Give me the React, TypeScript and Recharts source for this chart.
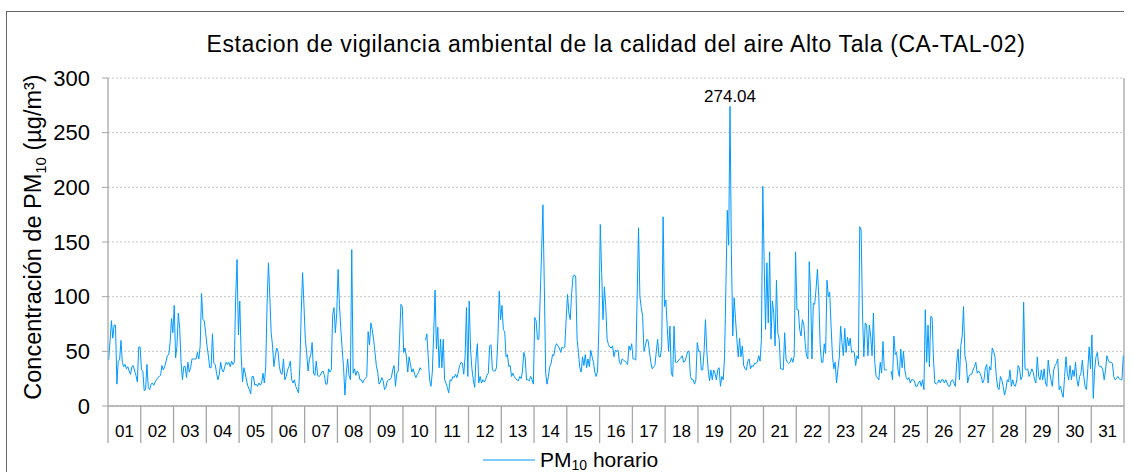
import { LineChart, Line, XAxis, YAxis, CartesianGrid, Legend, ReferenceLine, Label } from "recharts"

const dayLabels = [
  "01", "02", "03", "04", "05", "06", "07", "08", "09", "10", "11", "12", "13", "14", "15", "16",
  "17", "18", "19", "20", "21", "22", "23", "24", "25", "26", "27", "28", "29", "30", "31",
]
const yTicks = [0, 50, 100, 150, 200, 250, 300]

// PM10 hourly values (µg/m³), 24 per day, null = no data
const d01 = [42, 60, 78, 62, 74, 74, 20, 41, 42, 60, 40, 36, 38, 34, 36, 32, 29, 36, 37, 32, 28, 22, 54, 54]
const d02 = [33, 32, 14, 15, 38, 17, 15, 20, 21, 19, 22, 24, 26, 27, 28, 37, 33, 36, 41, 46, 47, 58, 80, 67]
const d03 = [92, 44, 55, 85, 71, 40, 24, 36, 36, 26, 40, 31, 35, 43, 43, 43, 43, 49, 43, 55, 103, 79, 78, 67]
const d04 = [55, 46, 35, 35, 66, 39, 38, 30, 24, 29, 40, 33, 31, 36, 40, 38, 40, 36, 41, 38, 40, 100, 134, 65]
const d05 = [96, 47, 22, 35, 30, 23, 18, 15, 11, 27, 27, 19, 20, 18, 21, 19, 21, 30, 21, 36, 94, 131, 100, 67]
const d06 = [55, 36, 46, 53, 50, 36, 30, 29, 43, 24, 27, 33, 36, 41, 24, 21, 24, 18, 15, 12, 37, 86, 122, 92]
const d07 = [61, 48, 32, 43, 47, 58, 30, 28, 41, 28, 27, 28, 31, 32, 28, 20, 20, 34, 31, 33, 83, 90, 67, 85]
const d08 = [125, 92, 70, 52, 35, 10, 30, 43, 28, 24, 143, 30, 34, 28, 32, 30, 24, 24, 21, 24, 25, 27, 68, 56]
const d09 = [76, 70, 61, 49, 37, 31, 20, 22, 26, 23, 15, 17, 23, 24, 24, 26, 33, 37, 18, 30, 32, 61, 93, 91]
const d10 = [49, 53, 45, 31, 45, 38, 31, 34, 29, 26, 29, 31, 35, 33, null, null, 60, 66, 45, 24, 18, 31, 66, 106]
const d11 = [52, 72, 35, 61, 35, 61, 24, 21, 17, 12, 24, 23, 27, 26, 29, 26, 31, 37, 40, 39, 29, 45, 90, 27]
const d12 = [96, 52, 34, 24, 17, 43, 57, 21, 27, 21, 24, 22, 24, 28, 30, 55, 56, 33, 32, 32, 35, 61, 105, 79]
const d13 = [92, 70, 68, 45, 47, 36, 37, 27, 30, 27, 25, 24, 23, 27, 25, 32, 49, 44, 24, 24, 23, 27, 24, 20]
const d14 = [81, 78, 61, 61, 100, 140, 184, 110, 30, 20, 27, 36, 39, 47, 46, 54, 57, 55, 53, 49, 54, 53, 54, 79]
const d15 = [102, 85, 79, 103, 118, 120, 118, 61, 49, 35, 31, 45, 37, 47, 35, 43, 36, 51, 45, 40, 31, 27, 32, 74]
const d16 = [166, 122, 79, 109, 91, 61, 56, 54, 53, 55, 45, 51, 50, 51, 40, 38, 43, 42, 41, 40, 38, 55, 51, 57]
const d17 = [43, 43, 42, 100, 163, 100, 90, 82, 50, 55, 61, 60, 50, 40, 34, 36, 37, 50, 61, 45, 45, 55, 173, 91]
const d18 = [97, 73, 50, 73, 30, 27, 73, 40, 40, 41, 43, 44, 46, 40, 41, 45, 50, 50, 27, 24, 24, 20, 24, 58]
const d19 = [50, 50, 33, 33, 50, 79, 50, 33, 23, 33, 24, 33, 30, 24, 33, 35, 18, 27, 24, 45, 110, 179, 147, 274.04]
const d20 = [140, 64, 99, 80, 61, 45, 62, 45, 55, 37, 34, 33, 41, 43, 34, 37, 36, 39, 39, 40, 46, 41, 61, 201]
const d21 = [131, 70, 131, 76, 141, 61, 96, 85, 55, 115, 67, 61, 34, 34, 33, 67, 43, 40, 39, 40, 44, 40, 46, 141]
const d22 = [88, 88, 70, 64, 79, 75, 58, 46, 43, 132, 104, 43, 94, 93, 107, 125, 100, 56, 40, 40, 57, 48, 115, 100]
const d23 = [104, 73, 46, 34, 40, 21, 34, 44, 73, 58, 46, 71, 49, 63, 55, 62, 49, 50, 49, 37, 46, 43, 164, 161]
const d24 = [85, 45, 76, 74, 46, 74, 64, 46, 85, 40, 27, 26, 24, 40, 30, 59, 33, 33, 33, null, null, 32, 24, 64]
const d25 = [47, 49, 33, 27, 52, 35, 50, 33, 26, 24, 26, 21, 24, 24, 23, 18, 18, 21, 23, 18, 24, 15, 88, 40]
const d26 = [74, 36, 82, 81, 42, 21, 20, 21, 24, 21, 24, 24, 21, 24, 21, 18, 18, 23, 24, 21, 18, 40, 52, 24]
const d27 = [55, 64, 91, 46, 40, 21, 27, 29, 29, 33, 36, 40, 30, 32, 30, 27, 21, 24, 35, 38, 21, 36, 33, 53]
const d28 = [50, 45, 27, 17, 15, 27, 24, 18, 10, 15, 24, 22, 33, 18, 24, 19, 18, 24, 37, 34, 24, 27, 95, 34]
const d29 = [33, 34, 27, 30, 34, 31, 24, 21, 45, 27, 24, 33, 24, 34, 21, 18, 42, 31, 24, 18, 33, 37, 39, 43]
const d30 = [15, 18, 12, 8, 27, 45, 30, 24, 37, 24, 33, 27, 40, 24, 18, 27, 30, 42, 27, 18, 15, 34, 54, 34]
const d31 = [65, 7, 33, 45, 49, 37, 36, 36, 33, 24, 33, 46, 42, 40, 40, 39, 27, 24, 25, 27, 25, 24, 24, 46]

const days = [
  d01, d02, d03, d04, d05, d06, d07, d08, d09, d10, d11, d12, d13, d14, d15, d16,
  d17, d18, d19, d20, d21, d22, d23, d24, d25, d26, d27, d28, d29, d30, d31,
]

const hourly = days.flat()
const data = hourly.map((pm10, i) => ({ hour: i + 0.5, pm10 }))
const peak = Math.max(...hourly.filter((v): v is number => v !== null))
const totalHours = days.length * 24
const xTicks = [...dayLabels.flatMap((_, i) => [i * 24, i * 24 + 12]), totalHours]

const LINE = "#0099ff"
const AXIS = "#a6a6a6"
const FONT = "'Liberation Sans', Arial, sans-serif"

function DayTick(props: any) {
  const { x, y, payload } = props
  const v = payload.value
  if (v % 24 === 0) {
    return <line x1={x} x2={x} y1={y} y2={y + 37} stroke={AXIS} strokeWidth={1.3} />
  }
  return (
    <text x={x} y={y + 30.5} textAnchor="middle" fontSize={17} fill="#000">
      {dayLabels[(v - 12) / 24]}
    </text>
  )
}

function YLabel(props: any) {
  const vb = props.viewBox || { x: 0, y: 78, width: 108, height: 328 }
  const cx = vb.x + 41
  const cy = vb.y + vb.height / 2 - 5
  return (
    <text x={cx} y={cy} textAnchor="middle" fontSize={23.5} fill="#000" transform={`rotate(-90, ${cx}, ${cy})`}>
      Concentración de PM
      <tspan fontSize={15} dy={5}>10</tspan>
      <tspan dy={-5}> (µg/m³)</tspan>
    </text>
  )
}

function PeakLabel(props: any) {
  const { x, y, value } = props
  if (value !== peak) return null
  return (
    <text x={x} y={y - 4} textAnchor="middle" fontSize={17} fill="#000">
      {value.toFixed(2)}
    </text>
  )
}

function LegendBox() {
  return (
    <svg width={1133} height={23}>
      <line x1={483} x2={535} y1={11} y2={11} stroke={LINE} strokeWidth={1} />
      <text x={540} y={18} fontSize={21} fill="#000" fontFamily={FONT}>
        PM<tspan fontSize={14} dy={3}>10</tspan>
        <tspan dy={-3}> horario</tspan>
      </text>
    </svg>
  )
}

export default function App() {
  return (
    <div style={{ position: "absolute", left: 0, top: 0, width: 1133, height: 472, overflow: "hidden", background: "#fff", fontFamily: FONT }}>
      <div style={{ position: "absolute", left: 6, top: 11, width: 1117, height: 480, borderTop: "1px solid #666", borderLeft: "1px solid #666" }} />
      <div style={{ position: "absolute", left: 108, width: 1016, top: 31, textAlign: "center", fontSize: 23, letterSpacing: 0.6, color: "#000", whiteSpace: "nowrap" }}>
        Estacion de vigilancia ambiental de la calidad del aire Alto Tala (CA-TAL-02)
      </div>
      <div style={{ position: "absolute", left: 0, top: 0 }}>
        <LineChart width={1133} height={472} data={data} margin={{ top: 78, right: 9, bottom: 0, left: 0 }}>
          <CartesianGrid vertical={false} stroke="#c4c4c4" strokeDasharray="2 2" />
          <XAxis
            dataKey="hour"
            type="number"
            domain={[0, totalHours]}
            ticks={xTicks}
            interval={0}
            height={66}
            tickSize={0}
            tickMargin={0}
            tickLine={false}
            axisLine={{ stroke: AXIS, strokeWidth: 1.3 }}
            tick={<DayTick />}
          />
          <YAxis
            domain={[0, 300]}
            ticks={yTicks}
            interval={0}
            width={108}
            tickSize={6}
            tickMargin={12}
            tick={{ fontSize: 22, fill: "#000" }}
            tickLine={{ stroke: AXIS }}
            axisLine={{ stroke: AXIS, strokeWidth: 1.3 }}
          >
            <Label content={<YLabel />} />
          </YAxis>
          <ReferenceLine x={totalHours} stroke={AXIS} strokeWidth={1.3} />
          <Legend
            verticalAlign="middle"
            align="center"
            layout="horizontal"
            wrapperStyle={{ top: 449, left: 0, width: 1133 }}
            content={() => <LegendBox />}
          />
          <Line
            type="linear"
            dataKey="pm10"
            name="PM10 horario"
            stroke={LINE}
            strokeWidth={1}
            dot={false}
            activeDot={false}
            isAnimationActive={false}
            label={<PeakLabel />}
          />
        </LineChart>
      </div>
    </div>
  )
}
